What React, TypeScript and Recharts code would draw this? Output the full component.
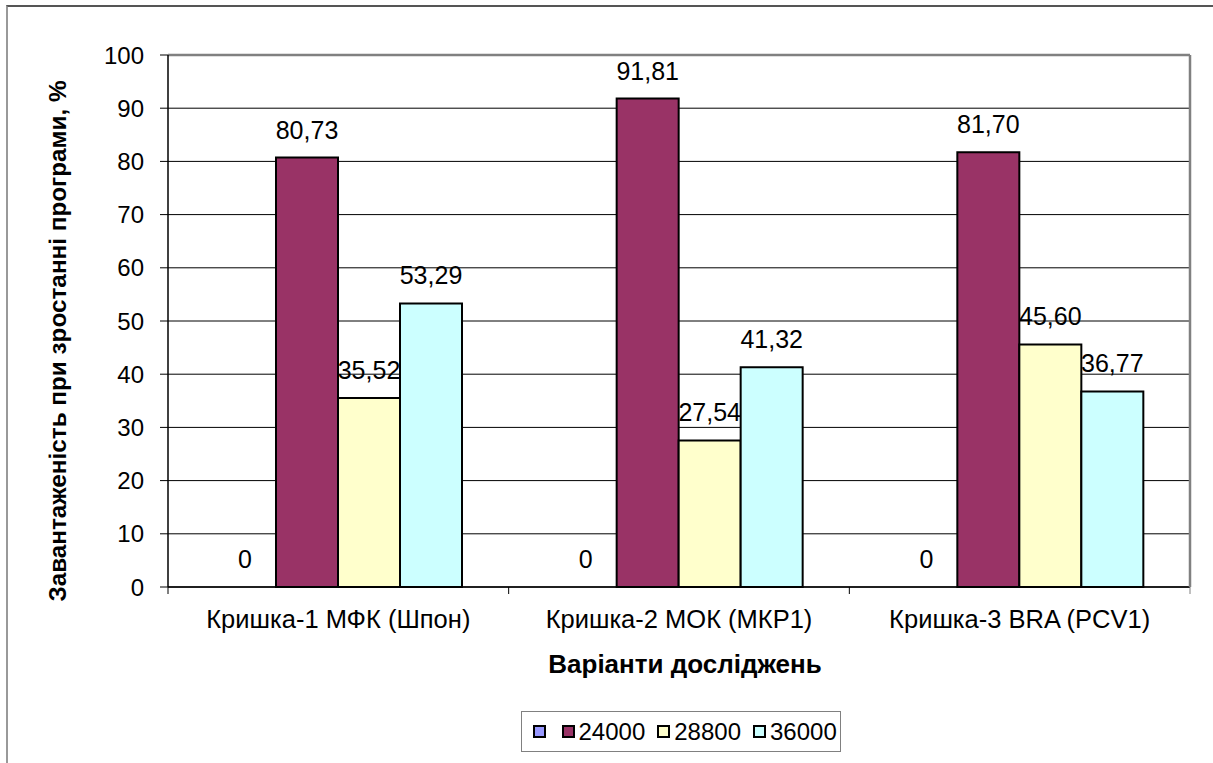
import React from 'react';
import { BarChart, Bar, XAxis, YAxis, CartesianGrid, LabelList, Label } from 'recharts';

const categories = ['Кришка-1 МФК (Шпон)', 'Кришка-2 МОК (МКР1)', 'Кришка-3 BRA (PCV1)'];
const seriesNames = ['', '24000', '28800', '36000'];
const seriesColors = ['#9999FF', '#993366', '#FFFFCC', '#CCFFFF'];
const valuesBlank = [0, 0, 0];
const values24000 = [80.73, 91.81, 81.7];
const values28800 = [35.52, 27.54, 45.6];
const values36000 = [53.29, 41.32, 36.77];
const yTicks = [0, 10, 20, 30, 40, 50, 60, 70, 80, 90, 100];
const yTitle = 'Завантаженість при зростанні програми, %';
const xTitle = 'Варіанти досліджень';

const seriesValues = [valuesBlank, values24000, values28800, values36000];
const data = categories.map((c, i) => {
  const row: Record<string, any> = { name: c };
  seriesValues.forEach((vals, s) => {
    row['s' + s] = vals[i];
  });
  return row;
});

const W = 1213;
const H = 763;
const PLOT_LEFT = 168;
const PLOT_TOP = 55;
const PLOT_RIGHT = 1190;
const PLOT_BOTTOM = 587;
const Y_AXIS_W = 100;
const X_AXIS_H = 100;
const M = {
  top: PLOT_TOP - 1,
  right: W - PLOT_RIGHT - 1,
  bottom: H - PLOT_BOTTOM - X_AXIS_H,
  left: PLOT_LEFT - Y_AXIS_W,
};
const PLOT_W = PLOT_RIGHT - PLOT_LEFT;
const BW = PLOT_W / categories.length;
const FONT = 'Arial, "Liberation Sans", sans-serif';
const Y_TITLE_X = 57;
const Y_TITLE_Y = 341;

const fmt = (v: any) => (Number(v) === 0 ? '0' : Number(v).toFixed(2).replace('.', ','));

const XTick = (props: any) => {
  const { x, payload, index } = props;
  const left = x - BW / 2;
  const right = x + BW / 2;
  return (
    <g>
      <line x1={left} y1={PLOT_BOTTOM} x2={left} y2={PLOT_BOTTOM + 7} stroke="#000" strokeWidth={1} />
      {index === categories.length - 1 && (
        <line x1={right} y1={PLOT_BOTTOM} x2={right} y2={PLOT_BOTTOM + 7} stroke="#808080" strokeWidth={1} />
      )}
      <text x={x} y={PLOT_BOTTOM + 41} textAnchor="middle" fontSize={25.5} fontFamily={FONT} fill="#000">
        {payload.value}
      </text>
    </g>
  );
};

export default function App() {
  return (
    <div style={{ position: 'absolute', left: 0, top: 0, width: W, height: H, background: '#fff', fontFamily: FONT }}>
      <div
        style={{
          position: 'absolute',
          left: 6,
          top: 5,
          width: W - 6,
          height: H - 5,
          borderTop: '2px solid #555',
          borderLeft: '2px solid #999',
          boxSizing: 'border-box',
        }}
      />
      <div style={{ position: 'absolute', left: 0, top: 0 }}>
        <BarChart
          width={W}
          height={H}
          data={data}
          margin={M}
          barCategoryGap={46}
          barGap={0}
        >
          <CartesianGrid horizontal vertical={false} stroke="#000" strokeWidth={1} />
          <XAxis
            dataKey="name"
            height={X_AXIS_H}
            axisLine={{ stroke: '#000', strokeWidth: 1.5 }}
            tickLine={false}
            tick={<XTick />}
            interval={0}
          >
            <Label
              content={() => (
                <text
                  x={PLOT_LEFT + PLOT_W / 2 + 6}
                  y={PLOT_BOTTOM + 86}
                  textAnchor="middle"
                  fontSize={26}
                  fontWeight="bold"
                  fontFamily={FONT}
                  fill="#000"
                >
                  {xTitle}
                </text>
              )}
            />
          </XAxis>
          <XAxis xAxisId="top" orientation="top" height={1} dataKey="name" tick={false} tickLine={false} axisLine={{ stroke: '#808080', strokeWidth: 2.5 }} />
          <YAxis
            domain={[0, 100]}
            ticks={yTicks}
            width={Y_AXIS_W}
            interval={0}
            axisLine={{ stroke: '#000', strokeWidth: 1.5 }}
            tickLine={{ stroke: '#000' }}
            tickSize={8}
            tickMargin={16}
            tick={{ fontSize: 24, fontFamily: FONT, fill: '#000' }}
          >
            <Label
              content={() => (
                <text
                  x={Y_TITLE_X}
                  y={Y_TITLE_Y}
                  transform={`rotate(-90 ${Y_TITLE_X} ${Y_TITLE_Y})`}
                  textAnchor="middle"
                  dominantBaseline="central"
                  fontSize={24.3}
                  fontWeight="bold"
                  fontFamily={FONT}
                  fill="#000"
                >
                  {yTitle}
                </text>
              )}
            />
          </YAxis>
          <YAxis yAxisId="right" orientation="right" width={1} domain={[0, 100]} tick={false} tickLine={false} axisLine={{ stroke: '#808080', strokeWidth: 2.5 }} />
          {seriesNames.map((n, s) => (
            <Bar
              key={s}
              dataKey={'s' + s}
              name={n}
              fill={seriesColors[s]}
              stroke={s === 0 ? 'none' : '#000'}
              strokeWidth={2}
              minPointSize={s === 0 ? 0.01 : 0}
              isAnimationActive={false}
            >
              <LabelList
                dataKey={'s' + s}
                position="top"
                offset={19}
                formatter={fmt}
                style={{ fontSize: 25, fontFamily: FONT, fill: '#000' }}
              />
            </Bar>
          ))}
        </BarChart>
      </div>
      <div
        style={{
          position: 'absolute',
          left: 521,
          top: 711,
          width: 320,
          height: 41,
          border: '1.5px solid #808080',
          boxSizing: 'border-box',
          display: 'flex',
          alignItems: 'center',
          paddingLeft: 10.5,
          fontSize: 24,
          fontFamily: FONT,
          color: '#000',
        }}
      >
        {seriesNames.map((n, s) => (
          <div key={s} style={{ display: 'flex', alignItems: 'center', marginRight: s === 0 ? 16 : 12 }}>
            <div
              style={{
                width: 13,
                height: 13,
                background: seriesColors[s],
                border: '2.5px solid #000',
                boxSizing: 'border-box',
                marginRight: s === 0 ? 0 : 4,
              }}
            />
            <span style={{ lineHeight: '24px' }}>{n}</span>
          </div>
        ))}
      </div>
    </div>
  );
}
